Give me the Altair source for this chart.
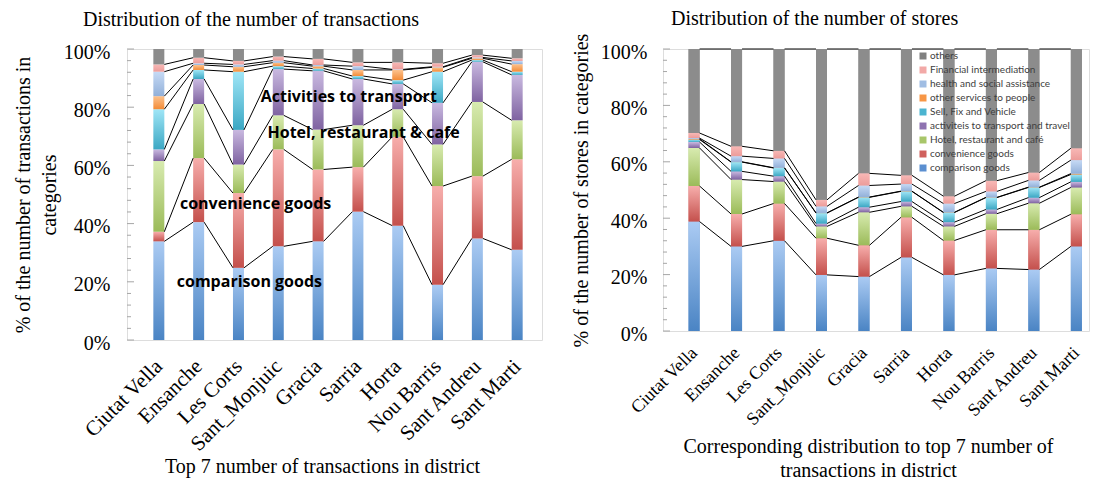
import altair as alt
import pandas as pd

districts = ["Ciutat Vella", "Ensanche", "Les Corts", "Sant_Monjuic", "Gracia",
             "Sarria", "Horta", "Nou Barris", "Sant Andreu", "Sant Marti"]

categories = ["comparison goods", "convenience goods", "Hotel, restaurant and café",
              "activiteis to transport and travel", "Sell, Fix and Vehicle",
              "other services to people", "health and social assistance",
              "Financial intermediation", "others"]

# share (%) of the number of transactions, per category, per district
tx_comparison = [33.9, 40.5, 24.8, 32.2, 33.9, 44.1, 39.3, 19.0, 34.9, 31.0]
tx_convenience = [3.3, 22.0, 25.7, 33.3, 24.7, 15.3, 30.5, 33.9, 21.4, 31.1]
tx_hotel = [24.3, 18.6, 9.8, 11.7, 13.7, 14.4, 9.5, 14.3, 25.5, 13.4]
tx_transport = [4.0, 8.6, 11.9, 15.9, 20.2, 15.9, 8.7, 14.3, 13.8, 15.6]
tx_sellfix = [13.8, 3.1, 20.0, 1.0, 0.8, 1.0, 1.3, 10.7, 0.6, 1.1]
tx_otherserv = [4.5, 1.7, 1.7, 1.2, 0.8, 2.1, 3.5, 1.5, 0.6, 2.6]
tx_health = [8.4, 0.6, 0.8, 0.7, 0.4, 1.3, 0.2, 0.2, 0.3, 1.1]
tx_financial = [2.5, 1.9, 1.2, 1.4, 2.1, 1.3, 2.4, 1.2, 0.8, 0.9]
tx_others = [5.3, 3.0, 4.1, 2.6, 3.4, 4.6, 4.6, 4.9, 2.1, 3.2]

# share (%) of the number of stores, per category, per district
st_comparison = [38.8, 30.0, 32.0, 19.9, 19.3, 26.1, 19.9, 22.2, 21.8, 30.0]
st_convenience = [12.6, 11.5, 13.2, 13.0, 11.1, 14.2, 12.2, 13.7, 14.1, 11.4]
st_hotel = [13.5, 12.2, 7.8, 4.2, 11.7, 3.9, 5.0, 5.7, 9.4, 9.5]
st_transport = [2.1, 2.9, 1.9, 1.0, 1.8, 1.7, 1.5, 1.5, 2.0, 2.0]
st_sellfix = [0.9, 3.3, 2.9, 3.7, 3.5, 3.6, 3.4, 4.2, 3.6, 2.6]
st_otherserv = [0.2, 0.1, 0.1, 0.1, 0.1, 0.1, 0.1, 0.1, 0.1, 0.3]
st_health = [0.3, 2.0, 3.3, 2.3, 4.1, 2.5, 3.1, 2.1, 2.4, 4.8]
st_financial = [1.8, 3.5, 2.7, 2.3, 4.3, 3.1, 2.6, 3.8, 2.8, 4.2]
st_others = [29.8, 34.5, 36.1, 53.5, 44.1, 44.8, 52.2, 46.7, 43.8, 35.2]

tx_series = [tx_comparison, tx_convenience, tx_hotel, tx_transport, tx_sellfix,
             tx_otherserv, tx_health, tx_financial, tx_others]
st_series = [st_comparison, st_convenience, st_hotel, st_transport, st_sellfix,
             st_otherserv, st_health, st_financial, st_others]

# light (top) / dark (bottom) gradient colours, and solid legend colours
light = ["#abcbf3", "#f7aeac", "#d8ebb0", "#c9b9e0", "#a0e6f7", "#fcc28e", "#c6daf5", "#f8b8b6", "#8c8c8c"]
dark = ["#4a84c4", "#c4504c", "#9bbb59", "#7f63a1", "#3ba7c3", "#f38b36", "#92b0d9", "#ec9c9a", "#8c8c8c"]
solid = ["#5b8fd0", "#d0605c", "#a8c66a", "#8e72b0", "#4bb4d0", "#f79646", "#a0bde3", "#f2a9a7", "#808080"]

ann_text = ["Activities to transport", "Hotel, restaurant & cafe", "convenience goods", "comparison goods"]
ann_x = [2.56, 2.73, 0.53, 0.45]
ann_y = [83.6, 71.2, 46.8, 20.0]

tick_values = list(range(0, 101, 4))

SERIF = "Liberation Serif"
SANS = "Lato"
BOLD_SANS = "Open Sans"


def stack_df(series):
    rows = []
    for i, d in enumerate(districts):
        c = 0.0
        for k, cat in enumerate(categories):
            v = series[k][i]
            rows.append(dict(idx=i, district=d, category=cat, y0=c, y1=c + v))
            c += v
    return pd.DataFrame(rows)


def lines_df(series, levels):
    cum = []
    for i in range(len(districts)):
        c, col = 0.0, []
        for k in range(len(categories)):
            c += series[k][i]
            col.append(c)
        cum.append(col)
    rows = []
    for k in range(levels):
        for i in range(len(districts) - 1):
            rows.append(dict(x=i, x2=i + 1, y=cum[i][k], y2=cum[i + 1][k], lvl=k))
    return pd.DataFrame(rows)


def panel(series, width, height, xdom, title, title_dx, title_offset, ytitle, ytitle_pad,
          ylabel_pad, xtitle, xtitle_x, xtitle_pad, xlabel_size, xlabel_pad, bar_size,
          levels, legend, annotate):
    df = stack_df(series)
    ldf = lines_df(series, levels)
    xs = alt.Scale(domain=xdom, nice=False, zero=False)
    ys = alt.Scale(domain=[0, 100], nice=False, zero=True)
    label_expr = "[" + ",".join("'%s'" % d for d in districts) + "][datum.value]"
    xa = alt.Axis(values=list(range(len(districts))), labelExpr=label_expr, labelAngle=-45,
                  labelAlign="right", labelBaseline="middle", labelFont=SERIF,
                  labelFontSize=xlabel_size, labelColor="black", labelPadding=xlabel_pad,
                  labelFlush=False, labelOverlap=False, ticks=False, domain=False,
                  grid=False, title=xtitle, titleFont=SERIF, titleFontSize=20,
                  titleFontWeight="normal", titleColor="black", titlePadding=xtitle_pad,
                  titleX=xtitle_x, titleLineHeight=24)
    ya = alt.Axis(values=[0, 20, 40, 60, 80, 100], labelExpr="datum.value + '%'",
                  labelFont=SERIF, labelFontSize=20, labelColor="black", labelPadding=ylabel_pad,
                  labelOffset=3, labelOverlap=False, ticks=False, domain=False, grid=False,
                  title=ytitle, titleFont=SERIF, titleFontSize=20, titleFontWeight="normal",
                  titleColor="black", titlePadding=ytitle_pad, titleLineHeight=26)

    def X(f):
        return alt.X(f, type="quantitative", scale=xs, axis=xa)

    def Y(f):
        return alt.Y(f, type="quantitative", scale=ys, axis=ya)

    layers = []
    if legend is not None:
        layers.append(
            alt.Chart(df).mark_bar(size=bar_size).encode(
                x=X("idx"), y=Y("y0"), y2="y1",
                color=alt.Color("category:N",
                                scale=alt.Scale(domain=categories[::-1], range=solid[::-1]),
                                legend=legend)))
    for k, cat in enumerate(categories):
        grad = alt.LinearGradient(
            gradient="linear", x1=0, x2=0, y1=0, y2=1,
            stops=[alt.GradientStop(color=light[k], offset=0),
                   alt.GradientStop(color=dark[k], offset=1)])
        layers.append(
            alt.Chart(df[df.category == cat]).mark_bar(size=bar_size, color=grad).encode(
                x=X("idx"), y=Y("y0"), y2="y1"))
    half = bar_size / 2.0
    layers.append(
        alt.Chart(ldf).mark_rule(color="black", strokeWidth=1, xOffset=half, x2Offset=-half)
        .encode(x=X("x"), x2="x2", y=Y("y"), y2="y2"))
    tdf = pd.DataFrame(dict(v=tick_values, major=[v % 20 == 0 for v in tick_values]))
    layers.append(
        alt.Chart(tdf[~tdf.major]).mark_rule(color="#a6a6a6", strokeWidth=1)
        .encode(x=alt.value(0), x2=alt.value(4), y=Y("v")))
    layers.append(
        alt.Chart(tdf[tdf.major]).mark_rule(color="#a6a6a6", strokeWidth=1)
        .encode(x=alt.value(0), x2=alt.value(7), y=Y("v")))
    if annotate:
        adf = pd.DataFrame(dict(t=ann_text, ax=ann_x, ay=ann_y))
        layers.append(
            alt.Chart(adf).mark_text(align="left", baseline="middle", font=BOLD_SANS,
                                     fontWeight="bold", fontSize=16, color="black")
            .encode(x=X("ax"), y=Y("ay"), text="t"))
    return alt.layer(*layers).properties(
        width=width, height=height,
        title=alt.TitleParams(title, font=SERIF, fontSize=20, fontWeight="normal",
                              color="black", anchor="start", frame="group", dx=title_dx,
                              offset=title_offset))


left = panel(tx_series, 415, 291, [-0.674, 9.498],
             "Distribution of the number of transactions", -44, 12,
             ["% of the number of transactions in", "categories"], 4, 17,
             "Top 7 number of transactions in district", 195, 2, 21, 23, 11, 8, None, True)

legend = alt.Legend(orient="none", legendX=255, legendY=2, title=None, labelFont=SANS,
                    labelFontSize=10, labelColor="#404040", symbolType="square",
                    symbolSize=49, symbolStrokeWidth=0, rowPadding=4, padding=0,
                    labelOffset=2)

right = panel(st_series, 426, 282, [-0.614, 9.18],
              "Distribution of the number of stores", 8, 4,
              "% of the number of stores in categories", 9, 16,
              ["Corresponding distribution to top 7 number of", "transactions in district"],
              205, 8, 18, 19, 11, 9, legend, False)

chart = alt.hconcat(left, right, spacing=27).resolve_scale(color="independent").properties(
    padding={"left": 4, "top": 0, "right": 0, "bottom": 0}
).configure_view(stroke="#a6a6a6", strokeWidth=1).configure(background="white")

chart.save("out.html", embed_options={"renderer": "svg", "actions": False})
